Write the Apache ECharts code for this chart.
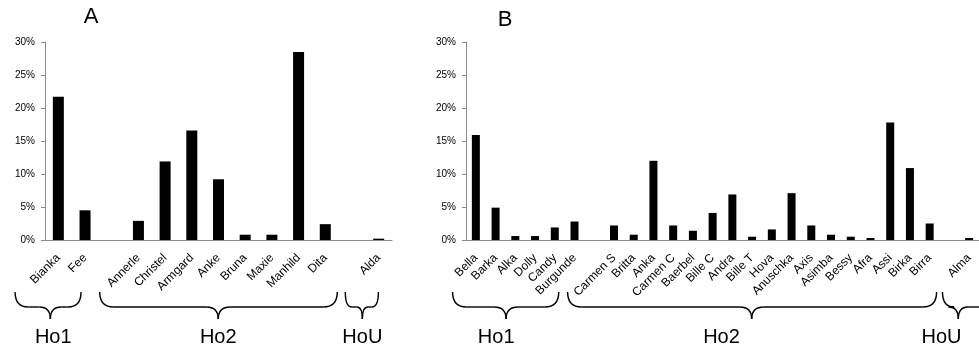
<!DOCTYPE html>
<html>
<head>
<meta charset="utf-8">
<script src="https://cdn.jsdelivr.net/npm/echarts@6/dist/echarts.min.js"></script>
<style>
  html, body { margin: 0; padding: 0; background: #fff; }
  #chart { width: 979px; height: 352px; }
</style>
</head>
<body>
<div id="chart"></div>
<script>
// panel A
const namesA = ['Bianka', 'Fee', '', 'Annerle', 'Christel', 'Armgard', 'Anke', 'Bruna', 'Maxie', 'Manhild', 'Dita', '', 'Alda']
const valuesA = [21.7, 4.5, '-', 2.9, 11.9, 16.6, 9.2, 0.8, 0.8, 28.5, 2.4, '-', 0.2]

// panel B
const namesB = ['Bella', 'Barka', 'Alka', 'Dolly', 'Candy', 'Burgunde', '', 'Carmen S', 'Britta', 'Anka',
  'Carmen C', 'Baerbel', 'Bille C', 'Andra', 'Bille T', 'Hova', 'Anuschka', 'Axis', 'Asimba', 'Bessy',
  'Afra', 'Assi', 'Birka', 'Birra', '', 'Alma']
const valuesB = [15.9, 4.9, 0.6, 0.6, 1.9, 2.8, '-', 2.2, 0.8, 12.0,
  2.2, 1.4, 4.1, 6.9, 0.5, 1.6, 7.1, 2.2, 0.8, 0.5,
  0.3, 17.8, 10.9, 2.5, '-', 0.3]

const yTicks = [0, 5, 10, 15, 20, 25, 30]

// group braces under the axis, in category units (from, to, tip, label)
const groupsA = [
  { name: 'Ho1', from: -1.62, to: 0.85, tip: -0.3, text: -0.19 },
  { name: 'Ho2', from: 1.55, to: 10.45, tip: 5.99, text: 5.99 },
  { name: 'HoU', from: 10.75, to: 11.99, tip: 11.39, text: 11.39 },
]
const groupsB = [
  { name: 'Ho1', from: -1.18, to: 4.2, tip: 1.53, text: 1.03 },
  { name: 'Ho2', from: 4.65, to: 23.35, tip: 13.98, text: 12.45 },
  { name: 'HoU', from: 23.65, to: 26.6, tip: 24.45, text: 23.6 },
]

const font = 'Liberation Sans, Arial, sans-serif'
const axisGray = '#8a8a8a'

const chart = echarts.init(document.getElementById('chart'))

function xAxisOf(idx, names) {
  return {
    type: 'category',
    gridIndex: idx,
    data: names,
    axisLine: { lineStyle: { color: axisGray } },
    axisTick: { length: 4, lineStyle: { color: axisGray } },
    axisLabel: { rotate: 45, fontSize: 12, color: '#000', fontFamily: font, margin: 16, interval: 0 },
  }
}

function yAxisOf(idx) {
  return {
    type: 'value',
    gridIndex: idx,
    min: yTicks[0],
    max: yTicks[yTicks.length - 1],
    interval: yTicks[1] - yTicks[0],
    splitLine: { show: false },
    axisLine: { show: true, lineStyle: { color: axisGray } },
    axisTick: { show: true, length: 4, lineStyle: { color: axisGray } },
    axisLabel: { formatter: '{value}%', fontSize: 10, color: '#000', fontFamily: font, margin: 10 },
  }
}

chart.setOption({
  animation: false,
  backgroundColor: '#fff',
  grid: [
    { left: 45, top: 42, width: 347, height: 198 },
    { left: 466, top: 42, width: 520, height: 198 },
  ],
  xAxis: [xAxisOf(0, namesA), xAxisOf(1, namesB)],
  yAxis: [yAxisOf(0), yAxisOf(1)],
  series: [
    { type: 'bar', xAxisIndex: 0, yAxisIndex: 0, data: valuesA, barWidth: 11, itemStyle: { color: '#000' } },
    { type: 'bar', xAxisIndex: 1, yAxisIndex: 1, data: valuesB, barWidth: 8, itemStyle: { color: '#000' } },
  ],
})

// braces + group labels placed from the category axes
function bracesFor(gridIdx, groups) {
  const c0 = chart.convertToPixel({ xAxisIndex: gridIdx }, 0)
  const c1 = chart.convertToPixel({ xAxisIndex: gridIdx }, 1)
  const step = c1 - c0
  const px = (u) => c0 + u * step
  const y0 = 292, yL = 307, yT = 319
  const st = { fill: null, stroke: '#000', lineWidth: 1.4 }
  const curve = (x1, y1, cx, cy, x2, y2) => ({
    type: 'bezierCurve', shape: { x1, y1, cpx1: cx, cpy1: cy, x2, y2 }, style: st,
  })
  const line = (x1, y1, x2, y2) => ({ type: 'line', shape: { x1, y1, x2, y2 }, style: st })
  const els = []
  groups.forEach((g) => {
    const x1 = px(g.from), x2 = px(g.to), xt = px(g.tip)
    const r = Math.min(14, (x2 - x1) / 5)
    const rt = Math.min(12, (x2 - x1) / 6)
    els.push(curve(x1, y0, x1, yL, x1 + r, yL))
    els.push(line(x1 + r, yL, xt - rt, yL))
    els.push(curve(xt - rt, yL, xt, yL, xt, yT))
    els.push(curve(xt, yT, xt, yL, xt + rt, yL))
    els.push(line(xt + rt, yL, x2 - r, yL))
    els.push(curve(x2 - r, yL, x2, yL, x2, y0))
    els.push({
      type: 'text', x: px(g.text), y: 337,
      style: { text: g.name, font: `20px ${font}`, fill: '#000', align: 'center', verticalAlign: 'middle' },
    })
  })
  return els
}

chart.setOption({
  graphic: [
    { type: 'text', x: 91, y: 17, style: { text: 'A', font: `22px ${font}`, fill: '#000', align: 'center', verticalAlign: 'middle' } },
    { type: 'text', x: 505, y: 20, style: { text: 'B', font: `22px ${font}`, fill: '#000', align: 'center', verticalAlign: 'middle' } },
    ...bracesFor(0, groupsA),
    ...bracesFor(1, groupsB),
  ],
})
</script>
</body>
</html>
